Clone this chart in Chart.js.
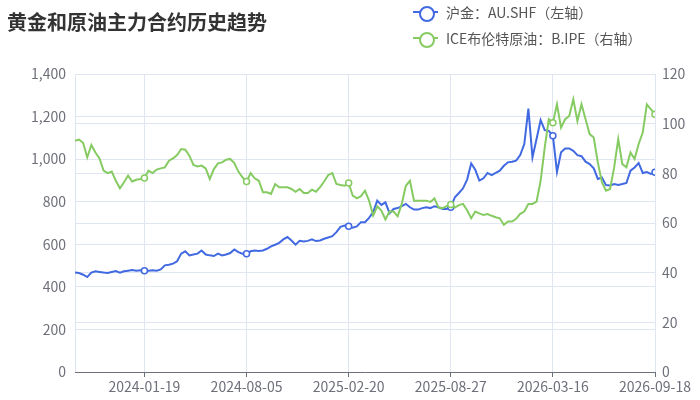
<!DOCTYPE html>
<html lang="zh">
<head>
<meta charset="UTF-8">
<title>黄金和原油主力合约历史趋势</title>
<script src="https://cdn.jsdelivr.net/npm/chart.js@4"></script>
<style>
  * { margin: 0; padding: 0; box-sizing: border-box; }
  body { background: #fff; font-family: "Noto Sans CJK SC", "Noto Sans", sans-serif; }
  .wrap { position: relative; width: 700px; height: 400px; }
  .title { position: absolute; left: 7px; top: 8px; font-size: 20px; font-weight: bold; color: #333; line-height: 28px; }
  .legend-item { position: absolute; left: 413px; display: flex; align-items: center; font-size: 14px; color: #555; line-height: 18px; }
  .icon { position: relative; width: 25px; height: 14px; margin-right: 8px; }
  .icon::before { content: ''; position: absolute; left: 0; right: 0; top: 6px; height: 2px; background: var(--c); }
  .icon::after { content: ''; position: absolute; left: 6px; top: 1px; width: 12px; height: 12px; border: 2px solid var(--c); border-radius: 50%; background: #fff; }
  canvas { position: absolute; left: 0; top: 0; }
</style>
</head>
<body>
<div class="wrap">
  <canvas id="trend" width="700" height="400"></canvas>
  <div class="title">黄金和原油主力合约历史趋势</div>
  <div class="legend-item" style="top:3px"><span class="icon" style="--c:#4169e1"></span>沪金：AU.SHF（左轴）</div>
  <div class="legend-item" style="top:29px"><span class="icon" style="--c:#86cb62"></span>ICE布伦特原油：B.IPE（右轴）</div>
</div>
<script>
// x positions are sample indices; labels only at every 25th sample
const tickIndex = [17, 42, 67, 92, 117, 142];
const tickLabels = ['2024-01-19', '2024-08-05', '2025-02-20', '2025-08-27', '2026-03-16', '2026-09-18'];

// 沪金 AU.SHF (left axis)
const goldAU = [
  467, 465, 457, 446, 467, 473, 470, 467, 465, 470,
  474, 467, 473, 476, 479, 476, 478, 476, 476, 478,
  476, 482, 501, 504, 509, 520, 556, 567, 548, 552,
  556, 571, 552, 548, 545, 556, 548, 552, 559, 576,
  563, 556, 556, 567, 571, 569, 571, 579, 590, 598,
  607, 623, 634, 618, 598, 616, 613, 616, 623, 615,
  618, 626, 632, 638, 657, 682, 688, 685, 678, 684,
  704, 704, 724, 751, 805, 785, 797, 746, 766, 770,
  779, 790, 774, 763, 763, 770, 774, 770, 779, 774,
  766, 766, 774, 821, 841, 863, 904, 980, 950, 899,
  910, 935, 925, 935, 946, 969, 985, 988, 993, 1019,
  1071, 1237, 1008, 1095, 1183, 1136, 1133, 1110, 940, 1032,
  1050, 1050, 1039, 1019, 1014, 988, 977, 957, 907, 914,
  878, 876, 883, 879, 883, 888, 946, 961, 982, 935,
  939, 931, 939
];

// ICE布伦特原油 B.IPE (right axis)
const brentIPE = [
  93.1, 93.6, 92.2, 86.4, 91.4, 88.4, 86.0, 81.1, 80.1, 80.7,
  77.0, 74.0, 76.4, 79.1, 76.7, 77.4, 77.7, 78.1, 81.1, 80.1,
  81.5, 82.0, 82.4, 85.1, 86.0, 87.4, 89.8, 89.5, 87.1, 83.4,
  82.8, 83.1, 82.0, 77.7, 81.7, 84.0, 84.4, 85.5, 85.8, 84.1,
  80.7, 78.4, 76.7, 80.1, 78.0, 77.0, 72.4, 72.4, 71.7, 75.7,
  74.4, 74.4, 74.4, 73.7, 72.6, 73.7, 72.1, 72.1, 73.4, 72.6,
  74.4, 76.7, 79.3, 80.1, 75.7, 75.3, 75.0, 76.1, 71.0, 69.9,
  70.8, 73.0, 69.0, 63.0, 66.7, 65.0, 61.4, 64.6, 64.6, 62.7,
  67.7, 75.0, 77.0, 69.0, 69.0, 69.0, 69.0, 68.5, 69.9, 66.2,
  66.0, 66.8, 67.5, 66.2, 67.2, 67.7, 65.1, 61.9, 64.6, 63.9,
  63.2, 63.6, 62.9, 62.3, 61.9, 59.3, 60.6, 60.6, 61.7, 63.7,
  64.6, 67.7, 67.7, 68.6, 77.0, 90.4, 101.8, 100.4, 107.8, 98.4,
  101.8, 103.1, 109.8, 101.1, 107.8, 101.8, 95.8, 94.4, 84.4, 76.4,
  73.0, 73.7, 82.4, 93.8, 83.7, 82.4, 88.4, 85.8, 91.8, 96.4,
  107.8, 105.8, 103.8
];

const GRID = '#E0E6F1';
const AXIS = '#6E7079';
const FONT = { family: '"Noto Sans CJK SC", "Noto Sans", sans-serif', size: 14 };

const markerRadius = ctx => tickIndex.includes(ctx.dataIndex) ? 3 : 0;

new Chart(document.getElementById('trend'), {
  type: 'line',
  data: {
    datasets: [
      {
        label: '沪金：AU.SHF（左轴）',
        data: goldAU.map((v, i) => ({ x: i, y: v })),
        yAxisID: 'yLeft',
        borderColor: '#4169e1',
        borderWidth: 2,
        pointRadius: markerRadius,
        pointBackgroundColor: '#fff',
        pointBorderColor: '#4169e1',
        pointBorderWidth: 1.5,
        tension: 0,
        order: 2
      },
      {
        label: 'ICE布伦特原油：B.IPE（右轴）',
        data: brentIPE.map((v, i) => ({ x: i, y: v })),
        yAxisID: 'yRight',
        borderColor: '#86cb62',
        borderWidth: 2,
        pointRadius: markerRadius,
        pointBackgroundColor: '#fff',
        pointBorderColor: '#86cb62',
        pointBorderWidth: 1.5,
        tension: 0,
        order: 1
      }
    ]
  },
  options: {
    responsive: false,
    animation: false,
    layout: { padding: { top: 74, left: 0, right: 0, bottom: 0 } },
    plugins: { legend: { display: false }, title: { display: false }, tooltip: { enabled: false } },
    scales: {
      x: {
        type: 'linear',
        min: 0,
        max: goldAU.length - 1,
        afterBuildTicks: scale => { scale.ticks = [0, ...tickIndex].map(v => ({ value: v })); },
        afterFit: scale => { scale.height = 28; },
        ticks: {
          autoSkip: false,
          maxRotation: 0,
          padding: 1,
          color: AXIS,
          font: FONT,
          callback: v => { const k = tickIndex.indexOf(v); return k < 0 ? '' : tickLabels[k]; }
        },
        grid: {
          color: GRID,
          tickLength: 5,
          tickColor: ctx => ctx.tick && ctx.tick.value === 0 ? 'rgba(0,0,0,0)' : AXIS
        },
        border: { color: AXIS, width: 1 }
      },
      yLeft: {
        position: 'left',
        min: 0,
        max: 1400,
        afterFit: scale => { scale.width = 75; },
        ticks: { stepSize: 200, color: AXIS, font: FONT, padding: 9 },
        grid: { color: GRID, drawTicks: false },
        border: { display: false }
      },
      yRight: {
        position: 'right',
        min: 0,
        max: 120,
        afterFit: scale => { scale.width = 45; },
        ticks: { stepSize: 20, color: AXIS, font: FONT, padding: 7 },
        grid: { color: GRID, drawTicks: false },
        border: { display: false }
      }
    }
  }
});
</script>
</body>
</html>
